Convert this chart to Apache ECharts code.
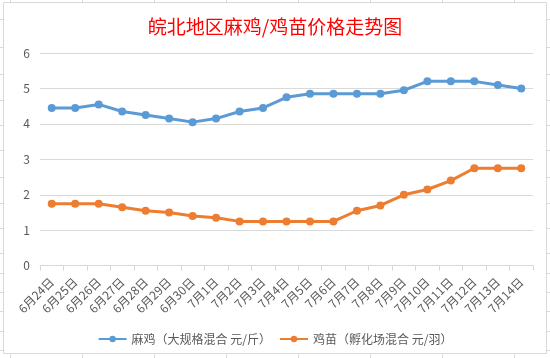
<!DOCTYPE html>
<html>
<head>
<meta charset="utf-8">
<script src="https://cdn.jsdelivr.net/npm/echarts@6/dist/echarts.min.js"></script>
<style>
html,body{margin:0;padding:0;background:#fff;}
#c{width:550px;height:358px;}
</style>
</head>
<body>
<div id="c"></div>
<script>
var categories = ['6月24日','6月25日','6月26日','6月27日','6月28日','6月29日','6月30日','7月1日','7月2日','7月3日','7月4日','7月5日','7月6日','7月7日','7月8日','7月9日','7月10日','7月11日','7月12日','7月13日','7月14日'];
var maji = [4.45,4.45,4.55,4.35,4.25,4.15,4.05,4.15,4.35,4.45,4.75,4.85,4.85,4.85,4.85,4.95,5.2,5.2,5.2,5.1,5.0];
var jimiao = [1.75,1.75,1.75,1.65,1.55,1.5,1.4,1.35,1.25,1.25,1.25,1.25,1.25,1.55,1.7,2.0,2.15,2.4,2.75,2.75,2.75];
var seriesNames = ['麻鸡（大规格混合 元/斤）','鸡苗（孵化场混合 元/羽）'];
var titleText = '皖北地区麻鸡/鸡苗价格走势图';

var chart = echarts.init(document.getElementById('c'), null, {renderer:'canvas'});
var gridColor = '#d9d9d9';
var txt = '#595959';
var font = '"Noto Sans CJK SC", "Microsoft YaHei", sans-serif';

var deco = [];
deco.push({type:'rect', shape:{x:3.5,y:2.5,width:543,height:351}, style:{fill:'#fff', stroke:gridColor, lineWidth:1}, z:-10});
[10.5,82.5,154.5,226.5,298.5,370.5,442.5,514.5].forEach(function(x){
  deco.push({type:'line', shape:{x1:x,y1:0,x2:x,y2:2}, style:{stroke:gridColor,lineWidth:1}, z:-10});
  deco.push({type:'line', shape:{x1:x,y1:354,x2:x,y2:358}, style:{stroke:gridColor,lineWidth:1}, z:-10});
});
[19.5,47.5,74.5,100.5,125.5,150.5,177.5,203.5,228.5,253.5,273.5,292.5,311.5,331.5,350.5].forEach(function(y){
  deco.push({type:'line', shape:{x1:0,y1:y,x2:3,y2:y}, style:{stroke:gridColor,lineWidth:1}, z:-10});
  deco.push({type:'line', shape:{x1:547,y1:y,x2:550,y2:y}, style:{stroke:gridColor,lineWidth:1}, z:-10});
});

chart.setOption({
  animation:false,
  backgroundColor:'#fff',
  graphic: deco,
  title:{
    text:titleText, left:'center', top:12,
    textStyle:{color:'#ff0000', fontSize:19, fontWeight:'normal', fontFamily:font}
  },
  legend:{
    bottom:8, left:'center', itemWidth:28, itemHeight:8, itemGap:8,
    textStyle:{color:txt, fontSize:12, fontFamily:font},
    data:seriesNames
  },
  grid:{left:40, right:17, top:53, bottom:92.3},
  xAxis:{
    type:'category', data:categories, boundaryGap:true,
    axisLine:{lineStyle:{color:gridColor}},
    axisTick:{show:true, length:5, lineStyle:{color:gridColor}, alignWithLabel:false},
    axisLabel:{rotate:45, color:txt, fontSize:12, fontFamily:font, margin:14, interval:0}
  },
  yAxis:{
    type:'value', min:0, max:6, interval:1,
    axisLine:{show:false}, axisTick:{show:false},
    splitLine:{lineStyle:{color:gridColor}},
    axisLabel:{color:txt, fontSize:12, fontFamily:font, margin:10}
  },
  series:[
    {name:seriesNames[0], type:'line', data:maji, symbol:'circle', symbolSize:8,
     lineStyle:{width:3, color:'#5b9bd5'}, itemStyle:{color:'#5b9bd5'}},
    {name:seriesNames[1], type:'line', data:jimiao, symbol:'circle', symbolSize:8,
     lineStyle:{width:3, color:'#ed7d31'}, itemStyle:{color:'#ed7d31'}}
  ]
});
</script>
</body>
</html>
